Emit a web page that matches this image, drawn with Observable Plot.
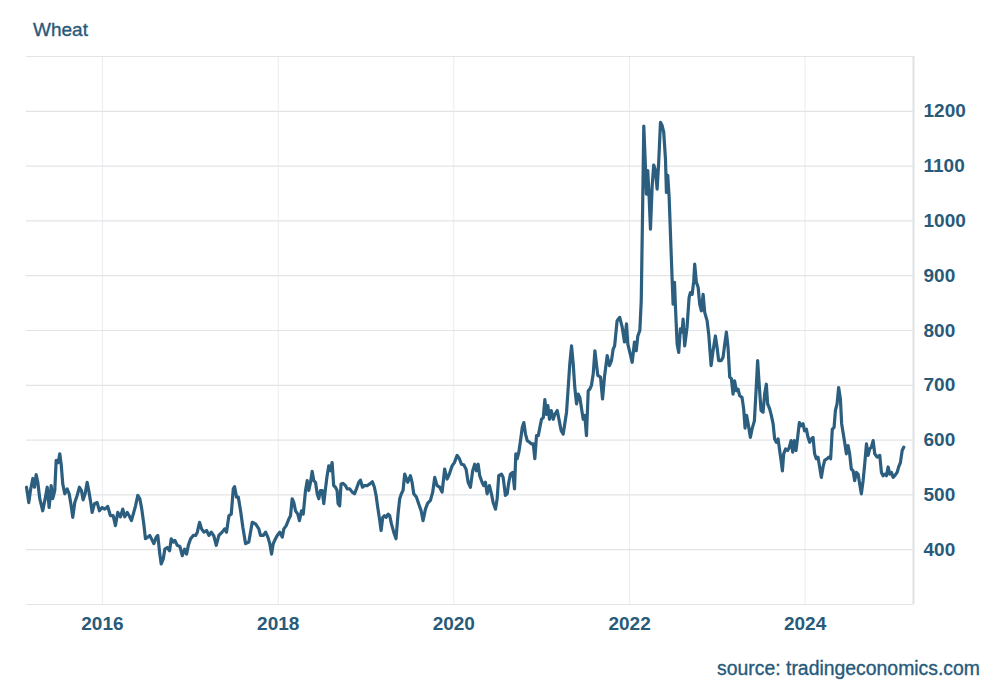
<!DOCTYPE html>
<html><head><meta charset="utf-8">
<script src="https://cdn.jsdelivr.net/npm/d3@7"></script>
<script src="https://cdn.jsdelivr.net/npm/@observablehq/plot@0.6"></script>
<style>
body{margin:0;background:#fff;font-family:"Liberation Sans",Arial,sans-serif;}
#wrap{position:relative;width:1000px;height:700px;overflow:hidden;}
#title{position:absolute;left:33px;top:19px;font-size:19px;color:#285a7a;white-space:nowrap;-webkit-text-stroke:0.35px #285a7a;}
#source{position:absolute;right:20px;top:657px;font-size:19.4px;color:#285a7a;white-space:nowrap;-webkit-text-stroke:0.35px #285a7a;}
#chart{position:absolute;left:0;top:0;}
</style></head><body>
<div id="wrap"><div id="chart"></div><div id="title">Wheat</div><div id="source">source: tradingeconomics.com</div></div>
<script>
// Wheat price (USd/Bu); each pair = [fraction of year, price]
const w2015 = [[0.135,514],[0.161,486],[0.180,508],[0.207,530],[0.226,514],[0.245,537],[0.264,523],[0.286,493],[0.320,471],[0.351,496],[0.371,514],[0.393,477],[0.416,517],[0.434,493],[0.457,508],[0.473,563],[0.496,559],[0.514,575],[0.530,556],[0.548,520],[0.571,502],[0.598,511],[0.621,502],[0.644,480],[0.662,459],[0.685,486],[0.712,499],[0.738,514],[0.761,508],[0.780,491],[0.803,502],[0.826,523],[0.844,508],[0.863,490],[0.883,468],[0.909,484],[0.940,486],[0.966,471],[0.997,477]];
const w2016 = [[0.026,474],[0.060,479],[0.091,462],[0.122,462],[0.148,444],[0.174,468],[0.205,460],[0.231,474],[0.254,460],[0.281,468],[0.304,462],[0.330,453],[0.356,468],[0.376,480],[0.402,499],[0.425,493],[0.447,474],[0.470,447],[0.489,420],[0.516,423],[0.538,426],[0.566,417],[0.584,411],[0.611,423],[0.629,426],[0.652,392],[0.668,374],[0.691,383],[0.709,401],[0.736,404],[0.763,398],[0.782,420],[0.805,414],[0.823,417],[0.850,408],[0.880,406],[0.907,389],[0.933,401],[0.956,392],[0.976,408]];
const w2017 = [[0.002,420],[0.032,426],[0.059,426],[0.078,432],[0.104,450],[0.127,438],[0.153,432],[0.184,435],[0.210,426],[0.237,432],[0.267,425],[0.294,408],[0.324,426],[0.361,432],[0.389,438],[0.411,432],[0.438,462],[0.465,465],[0.488,511],[0.503,515],[0.525,496],[0.545,496],[0.571,471],[0.597,441],[0.628,411],[0.665,414],[0.704,450],[0.742,447],[0.779,438],[0.798,426],[0.829,426],[0.856,432],[0.882,423],[0.904,411],[0.924,392],[0.943,411],[0.969,420],[0.989,426]];
const w2018 = [[0.018,432],[0.046,423],[0.064,438],[0.091,444],[0.121,456],[0.140,462],[0.159,493],[0.178,486],[0.197,471],[0.223,465],[0.242,453],[0.265,471],[0.285,465],[0.311,508],[0.330,526],[0.348,508],[0.368,523],[0.387,543],[0.405,526],[0.425,523],[0.444,502],[0.462,493],[0.481,508],[0.501,508],[0.519,484],[0.538,511],[0.557,535],[0.576,553],[0.595,544],[0.614,559],[0.632,517],[0.652,514],[0.671,508],[0.682,484],[0.700,480],[0.716,520],[0.739,521],[0.766,517],[0.785,511],[0.815,511],[0.843,505],[0.869,502],[0.891,511],[0.918,523],[0.937,527],[0.960,514],[0.982,517]];
const w2019 = [[0.013,517],[0.043,520],[0.073,524],[0.096,514],[0.115,499],[0.134,477],[0.157,453],[0.172,435],[0.191,459],[0.210,462],[0.229,459],[0.252,465],[0.270,462],[0.290,447],[0.316,432],[0.342,420],[0.365,465],[0.384,493],[0.403,502],[0.422,508],[0.441,538],[0.475,523],[0.506,535],[0.525,523],[0.544,502],[0.574,496],[0.600,484],[0.628,471],[0.650,453],[0.677,474],[0.703,485],[0.734,490],[0.760,505],[0.783,532],[0.810,517],[0.840,514],[0.867,505],[0.896,547],[0.924,529],[0.950,538],[0.981,553]];
const w2020 = [[0.007,559],[0.038,572],[0.064,566],[0.087,556],[0.113,555],[0.140,547],[0.163,523],[0.189,514],[0.215,544],[0.238,556],[0.257,544],[0.277,556],[0.295,535],[0.322,523],[0.340,517],[0.360,523],[0.379,502],[0.405,517],[0.428,502],[0.447,486],[0.474,474],[0.493,493],[0.511,535],[0.542,538],[0.561,532],[0.587,499],[0.607,502],[0.625,523],[0.644,538],[0.671,541],[0.690,511],[0.705,575],[0.721,566],[0.739,578],[0.758,599],[0.778,623],[0.796,632],[0.815,611],[0.835,599],[0.861,596],[0.883,593],[0.903,593],[0.921,566],[0.940,608],[0.960,608],[0.978,623],[0.997,638]];
const w2021 = [[0.017,641],[0.035,674],[0.051,647],[0.069,663],[0.088,638],[0.108,654],[0.130,638],[0.149,647],[0.176,654],[0.199,635],[0.221,617],[0.244,611],[0.262,630],[0.282,651],[0.301,696],[0.319,739],[0.339,772],[0.358,739],[0.376,696],[0.396,666],[0.415,684],[0.433,678],[0.453,657],[0.472,638],[0.490,645],[0.509,608],[0.529,690],[0.547,693],[0.566,700],[0.586,721],[0.605,763],[0.638,718],[0.669,715],[0.692,675],[0.714,715],[0.745,754],[0.771,736],[0.794,745],[0.813,766],[0.830,772],[0.858,818],[0.888,824],[0.916,806],[0.942,779],[0.965,812],[0.980,775]];
const w2022 = [[0.003,760],[0.030,742],[0.056,779],[0.076,763],[0.094,790],[0.117,800],[0.133,854],[0.150,1036],[0.162,1173],[0.181,1098],[0.192,1049],[0.207,1092],[0.223,1043],[0.238,985],[0.257,1062],[0.275,1102],[0.295,1092],[0.314,1058],[0.332,1107],[0.352,1180],[0.371,1174],[0.389,1162],[0.409,1113],[0.420,1052],[0.435,1083],[0.451,1043],[0.466,976],[0.485,893],[0.496,848],[0.512,888],[0.523,842],[0.542,775],[0.560,760],[0.579,803],[0.599,797],[0.610,821],[0.628,772],[0.655,806],[0.678,860],[0.693,869],[0.713,866],[0.731,890],[0.742,921],[0.761,888],[0.781,879],[0.799,848],[0.818,836],[0.838,866],[0.856,833],[0.883,818],[0.902,793],[0.929,736],[0.951,763],[0.978,790],[0.997,769]];
const w2023 = [[0.015,745],[0.043,745],[0.065,751],[0.084,775],[0.103,797],[0.122,769],[0.141,715],[0.160,712],[0.179,684],[0.197,708],[0.217,690],[0.236,693],[0.254,681],[0.281,678],[0.300,657],[0.316,622],[0.334,645],[0.356,625],[0.376,605],[0.395,620],[0.422,635],[0.441,690],[0.459,745],[0.479,696],[0.498,654],[0.521,651],[0.539,684],[0.558,702],[0.573,666],[0.596,657],[0.615,645],[0.635,630],[0.653,602],[0.672,596],[0.692,602],[0.710,581],[0.726,563],[0.741,544],[0.756,575],[0.778,584],[0.801,581],[0.820,587],[0.840,599],[0.858,578],[0.877,599],[0.896,581],[0.915,605],[0.934,632],[0.953,626],[0.976,630],[0.994,617]];
const w2024 = [[0.014,620],[0.033,605],[0.051,596],[0.071,602],[0.090,605],[0.108,575],[0.127,566],[0.146,569],[0.165,551],[0.184,532],[0.204,551],[0.222,563],[0.249,566],[0.272,569],[0.290,566],[0.309,620],[0.329,623],[0.344,654],[0.363,666],[0.381,696],[0.401,675],[0.415,630],[0.431,614],[0.449,596],[0.469,575],[0.488,590],[0.506,575],[0.525,547],[0.545,544],[0.563,526],[0.582,541],[0.602,538],[0.620,520],[0.639,502],[0.659,526],[0.677,556],[0.697,593],[0.716,572],[0.734,584],[0.753,587],[0.773,599],[0.791,575],[0.818,569],[0.848,572],[0.867,541],[0.886,535],[0.905,538],[0.924,535],[0.943,551],[0.962,538],[0.981,541]];
const w2025 = [[0.000,532],[0.018,535],[0.045,541],[0.063,551],[0.083,559],[0.103,581],[0.121,587]];

const yTicks = [400, 500, 600, 700, 800, 900, 1000, 1100, 1200];
const yGrid = [300, 400, 500, 600, 700, 800, 900, 1000, 1100, 1200, 1300];
const xTickYears = [2016, 2018, 2020, 2022, 2024];
const xDomainYears = [2015.135, 2025.232];

function toDate(y) {
  const yr = Math.floor(y);
  const s = Date.UTC(yr, 0, 1), e = Date.UTC(yr + 1, 0, 1);
  return new Date(s + (y - yr) * (e - s));
}

const byYear = [[2015,w2015],[2016,w2016],[2017,w2017],[2018,w2018],[2019,w2019],[2020,w2020],[2021,w2021],[2022,w2022],[2023,w2023],[2024,w2024],[2025,w2025]];
const data = byYear.flatMap(([yr, arr]) => arr.map(([f, v]) => ({date: toDate(yr + f), value: v})));
data.sort((a, b) => a.date - b.date);

const xTicks = xTickYears.map(y => toDate(y));
const xDomain = xDomainYears.map(toDate);
const textColor = "#285a7a";

const chart = Plot.plot({
  width: 1000,
  height: 640,
  marginTop: 56,
  marginBottom: 36,
  marginLeft: 26,
  marginRight: 87,
  style: {fontFamily: "'Liberation Sans', Arial, sans-serif", fontSize: "19px", color: textColor, background: "transparent", overflow: "visible"},
  x: {type: "utc", domain: xDomain},
  y: {domain: [300, 1300]},
  marks: [
    Plot.ruleX(xTicks, {stroke: "#e9edf1", strokeWidth: 1}),
    Plot.ruleY(yGrid, {stroke: "#e2e4e6", strokeWidth: 1.2}),
    Plot.ruleX([xDomain[1]], {stroke: "#dfe1e3", strokeWidth: 2}),
    Plot.line(data, {x: "date", y: "value", stroke: "#2c5f7f", strokeWidth: 3.2, strokeLinejoin: "round"}),
    Plot.axisY(yTicks, {anchor: "right", tickSize: 0, tickPadding: 10, fontWeight: "bold", tickFormat: d => String(d), label: null}),
    Plot.axisX(xTicks, {anchor: "bottom", tickSize: 0, tickPadding: 12, fontWeight: "bold", tickFormat: d3.utcFormat("%Y"), label: null})
  ]
});
document.getElementById("chart").appendChild(chart);
</script></body></html>
